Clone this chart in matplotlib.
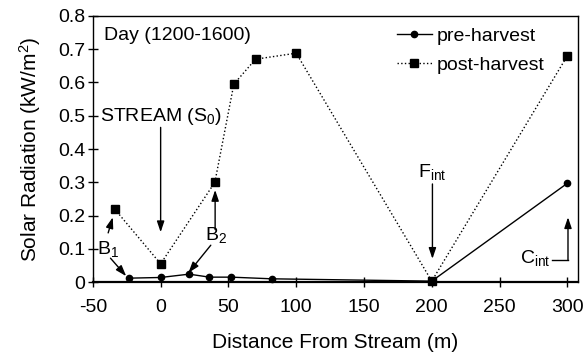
import matplotlib
matplotlib.use("Agg")
import matplotlib.pyplot as plt

plt.rcParams['font.family'] = ['Liberation Sans', 'DejaVu Sans']
plt.rcParams['mathtext.fontset'] = 'custom'
plt.rcParams['mathtext.rm'] = 'Liberation Sans'
plt.rcParams['mathtext.it'] = 'Liberation Sans'
plt.rcParams['mathtext.default'] = 'regular'
plt.rcParams['axes.unicode_minus'] = False

# Measurements: distance from stream (m) and solar radiation (kW/m^2)
pre_x = [-23, 0, 21, 36, 52, 82, 200, 300]
pre_y = [0.012, 0.014, 0.024, 0.015, 0.015, 0.010, 0.003, 0.297]
post_x = [-34, 0, 40, 54, 70, 100, 200, 300]
post_y = [0.22, 0.055, 0.30, 0.595, 0.67, 0.688, 0.003, 0.68]

x_ticks = [-50, 0, 50, 100, 150, 200, 250, 300]
y_ticks = [0, 0.1, 0.2, 0.3, 0.4, 0.5, 0.6, 0.7, 0.8]
y_tick_labels = ['0', '0.1', '0.2', '0.3', '0.4', '0.5', '0.6', '0.7', '0.8']

FS = 14

fig = plt.figure(figsize=(5.84, 3.54), dpi=100)
ax = fig.add_axes([0.159, 0.203, 0.831, 0.752])

ax.plot(pre_x, pre_y, '-', color='black', lw=1.0, marker='o', ms=4.5,
        label='pre-harvest', clip_on=False, zorder=3)
ax.plot(post_x, post_y, ':', color='black', lw=1.0, marker='s', ms=6,
        label='post-harvest', clip_on=False, zorder=3)

ax.set_xlim(-50, 308)
ax.set_ylim(0, 0.8)
ax.set_xticks(x_ticks)
ax.set_yticks(y_ticks)
ax.set_yticklabels(y_tick_labels)
ax.tick_params(direction='inout', length=7, width=1, labelsize=FS, pad=2)
ax.tick_params(axis='x', pad=9)
for s in ax.spines.values():
    s.set_linewidth(1.0)
ax.spines['bottom'].set_linewidth(1.6)

ax.set_xlabel('Distance From Stream (m)', fontsize=15, labelpad=12)
ax.set_ylabel('Solar Radiation (kW/m$^2$)', fontsize=15, labelpad=11)

ax.legend(loc='upper right', frameon=False, fontsize=FS, handlelength=1.8,
          handletextpad=0.25, labelspacing=0.55, borderaxespad=0.2,
          bbox_to_anchor=(0.955, 1.0))

ax.text(-42, 0.74, 'Day (1200-1600)', fontsize=FS, ha='left', va='center')

arrow = dict(arrowstyle='-|>,head_width=0.22,head_length=0.65', color='black',
             lw=1.0, mutation_scale=10, shrinkA=0, shrinkB=0)

# Stream
ax.text(0, 0.497, 'STREAM (S$_0$)', fontsize=FS, ha='center', va='center')
ax.annotate('', xy=(0, 0.15), xytext=(0, 0.465), arrowprops=arrow)

# B1
ax.text(-39, 0.1, 'B$_1$', fontsize=FS, ha='center', va='center')
ax.annotate('', xy=(-35.3, 0.195), xytext=(-38.7, 0.148), arrowprops=arrow)
ax.annotate('', xy=(-25.4, 0.018), xytext=(-37, 0.072), arrowprops=arrow)

# B2
ax.text(41, 0.143, 'B$_2$', fontsize=FS, ha='center', va='center')
ax.annotate('', xy=(40.2, 0.277), xytext=(40.2, 0.158), arrowprops=arrow)
ax.annotate('', xy=(20.5, 0.028), xytext=(37, 0.111), arrowprops=arrow)

# F_int
ax.text(200.5, 0.33, 'F$_{int}$', fontsize=FS, ha='center', va='center')
ax.annotate('', xy=(200.5, 0.07), xytext=(200.5, 0.295), arrowprops=arrow)

# C_int
ax.text(287.5, 0.072, 'C$_{int}$', fontsize=FS, ha='right', va='center')
ax.plot([288.5, 300.5], [0.066, 0.066], color='black', lw=1.0)
ax.annotate('', xy=(300.5, 0.195), xytext=(300.5, 0.066), arrowprops=arrow)

fig.savefig('out.png', dpi=100)
